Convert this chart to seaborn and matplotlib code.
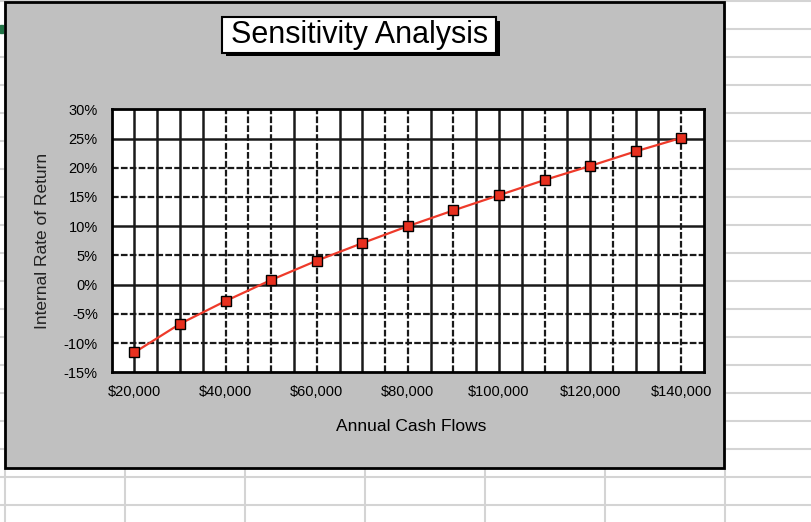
import matplotlib
matplotlib.use("Agg")
import matplotlib.pyplot as plt
from matplotlib import ticker
from matplotlib.patches import Rectangle
import seaborn as sns
import pandas as pd

# data
cash_flows = [20000, 30000, 40000, 50000, 60000, 70000, 80000,
              90000, 100000, 110000, 120000, 130000, 140000]
irr_pct = [-11.6, -6.7, -2.8, 0.8, 4.1, 7.1, 10.0,
           12.7, 15.3, 17.9, 20.3, 22.8, 25.1]
x_tick_labels = ["$20,000", "$40,000", "$60,000", "$80,000",
                 "$100,000", "$120,000", "$140,000"]
y_ticks = [-15, -10, -5, 0, 5, 10, 15, 20, 25, 30]

df = pd.DataFrame({"pos": range(len(cash_flows)), "irr": irr_pct,
                   "cash": cash_flows})

sns.set_style("white")
plt.rcParams["font.family"] = ["Liberation Sans", "DejaVu Sans"]

W, H = 812, 522
fig = plt.figure(figsize=(W / 100, H / 100), dpi=100)

######### spreadsheet background + chart frame #########
bg = fig.add_axes([0, 0, 1, 1], zorder=0)
bg.set_xlim(0, W)
bg.set_ylim(H, 0)
bg.axis("off")
for yy in range(1, H, 28):
    bg.plot([0, W], [yy, yy], color="#d4d4d4", lw=1.5, zorder=1)
for xx in range(5, W, 120):
    bg.plot([xx, xx], [0, H], color="#d4d4d4", lw=1.5, zorder=1)
bg.add_patch(Rectangle((0, 25), 3, 8, color="#217346", zorder=2))
bg.add_patch(Rectangle((5, 2), 719, 465.5, facecolor="#c0c0c0",
                       edgecolor="black", lw=2, zorder=3))
# title box with shadow
bg.add_patch(Rectangle((226, 20.5), 274, 35.5, facecolor="black", lw=0, zorder=4))
bg.add_patch(Rectangle((222.5, 17.3), 274, 35.5, facecolor="white",
                       edgecolor="black", lw=1.5, zorder=5))
bg.text(359.5, 35.5, "Sensitivity Analysis", fontsize=22, ha="center",
        va="center", color="black", zorder=6)

######### main plot #########
x0, x1, y0, y1 = 111.7, 704.0, 109.3, 372.3
ax = fig.add_axes([x0 / W, 1 - y1 / H, (x1 - x0) / W, (y1 - y0) / H], zorder=2)
ax.set_facecolor("white")

# Excel-style gridlines (mix of solid and broken lines as rendered)
h_styles = {-10: "d", -5: "d", 0: "s", 5: "d", 10: "s", 15: "d", 20: "d", 25: "s"}
for yv, st in h_styles.items():
    if st == "s":
        ax.axhline(yv, color="#1a1a1a", lw=1.8, zorder=1)
    else:
        ax.axhline(yv, color="#1a1a1a", lw=1.6, ls=(0, (3, 1)), zorder=1)
v_styles = "SSSSDDDSDSSDDSDSSSDSSDSSD"
for i, st in enumerate(v_styles):
    xv = i * 0.5
    if st == "S":
        ax.axvline(xv, color="#1a1a1a", lw=1.8, zorder=1)
    else:
        ax.axvline(xv, color="#1a1a1a", lw=1.6, ls=(0, (3, 1)), zorder=1)

sns.lineplot(data=df, x="pos", y="irr", ax=ax, color="#ee3a2a", lw=1.6,
             marker="s", markersize=7.5, markerfacecolor="#e8301f",
             markeredgecolor="black", markeredgewidth=1, zorder=5)

ax.set_xlim(-0.5, len(cash_flows) - 0.5)
ax.set_ylim(-15, 30)
ax.set_xticks(range(0, len(cash_flows), 2))
ax.set_xticklabels(x_tick_labels)
ax.set_yticks(y_ticks)
ax.yaxis.set_major_formatter(ticker.FuncFormatter(lambda v, p: f"{v:.0f}%"))
ax.tick_params(axis="both", length=0, labelsize=10.5, colors="black")
ax.tick_params(axis="y", pad=10)
ax.tick_params(axis="x", pad=9)
for sp in ax.spines.values():
    sp.set_visible(True)
    sp.set_color("black")
    sp.set_linewidth(2)

ax.set_xlabel("Annual Cash Flows", fontsize=12.5, color="black")
ax.set_ylabel("Internal Rate of Return", fontsize=12.5, color="#222222")
ax.xaxis.set_label_coords(0.505, -0.178)
ax.yaxis.set_label_coords(-0.104, 0.5)

plt.savefig("out.png", dpi=100)
